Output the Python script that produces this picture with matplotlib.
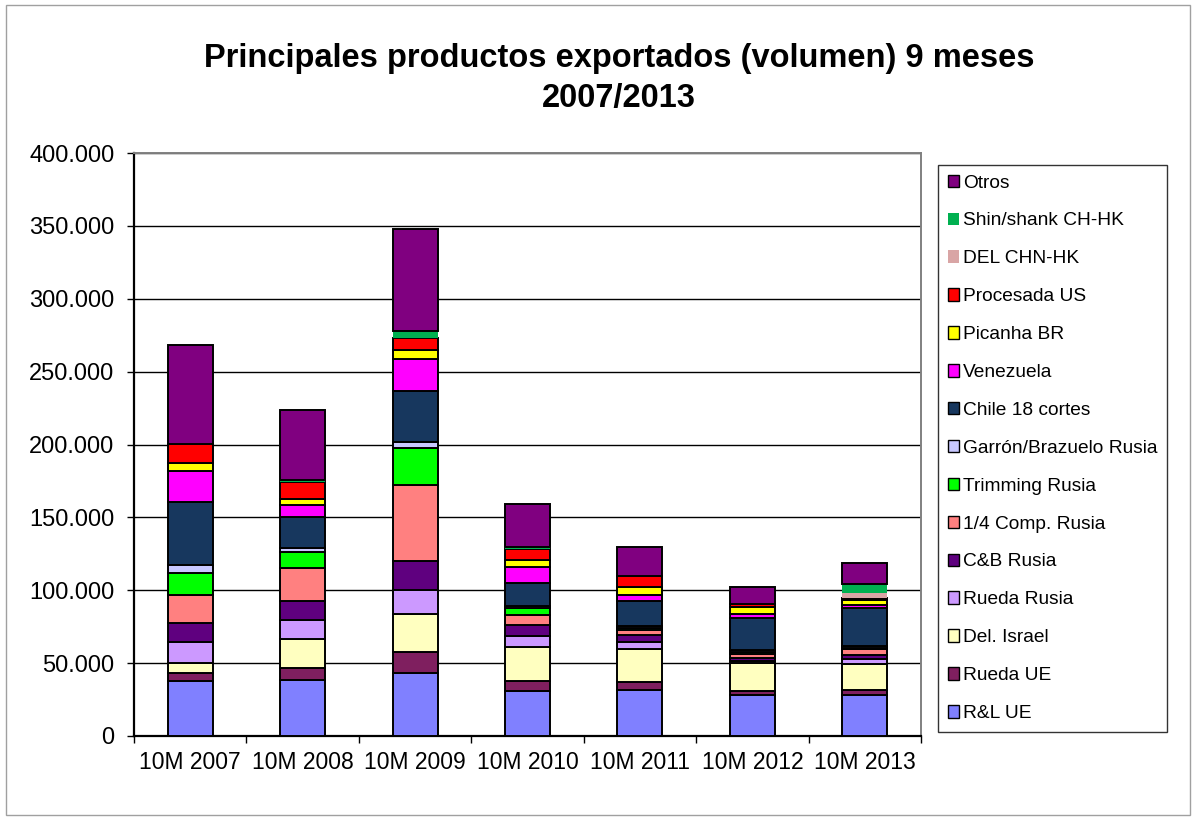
import matplotlib
matplotlib.use("Agg")
import matplotlib.pyplot as plt
from matplotlib.patches import Rectangle, Patch
from matplotlib.ticker import FuncFormatter, MultipleLocator, FixedLocator
import numpy as np

plt.rcParams['font.family'] = ['Liberation Sans', 'DejaVu Sans']

categories = ["10M 2007", "10M 2008", "10M 2009", "10M 2010", "10M 2011", "10M 2012", "10M 2013"]

series_names = ["R&L UE", "Rueda UE", "Del. Israel", "Rueda Rusia", "C&B Rusia",
                "1/4 Comp. Rusia", "Trimming Rusia", "Garrón/Brazuelo Rusia",
                "Chile 18 cortes", "Venezuela", "Picanha BR", "Procesada US",
                "DEL CHN-HK", "Shin/shank CH-HK", "Otros"]

rl_ue        = [38000, 38400, 43200, 31000, 31500, 28100, 28300]
rueda_ue     = [5000, 8400, 14600, 6700, 5300, 2500, 3000]
del_israel   = [7200, 19600, 25800, 23500, 22800, 19400, 18200]
rueda_rusia  = [14400, 13000, 16400, 7500, 4600, 1600, 3200]
cb_rusia     = [12800, 13200, 20100, 7300, 5400, 1600, 3000]
comp_rusia   = [19400, 22600, 52000, 7300, 2800, 3400, 3700]
trimming     = [14800, 10900, 25600, 4400, 1500, 1000, 1200]
garron       = [5500, 2600, 3900, 1600, 1600, 1100, 1200]
chile        = [43200, 21900, 34900, 16000, 16800, 22600, 25900]
venezuela    = [21700, 8200, 22400, 10900, 4700, 2700, 2200]
picanha      = [5200, 3600, 5900, 4600, 5000, 4800, 3700]
procesada    = [13300, 12200, 8300, 7700, 7800, 1600, 1100]
del_chn_hk   = [0, 0, 0, 0, 0, 0, 3700]
shin_shank   = [0, 1300, 5000, 1400, 0, 0, 5900]
otros        = [67500, 48000, 69800, 29500, 19600, 11600, 14700]

data = [rl_ue, rueda_ue, del_israel, rueda_rusia, cb_rusia, comp_rusia, trimming,
        garron, chile, venezuela, picanha, procesada, del_chn_hk, shin_shank, otros]

colors = ["#8080FF", "#7F1F5F", "#FFFFC0", "#CC99FF", "#5F007F", "#FF8080", "#00FF00",
          "#C8C8FF", "#17375E", "#FF00FF", "#FFFF00", "#FF0000", "#D9A5A5", "#00B050", "#800080"]
has_edge = [True] * 12 + [False, False, True]

W, H = 1194, 819
fig = plt.figure(figsize=(W / 100, H / 100), dpi=100)
fig.patches.append(Rectangle((6 / W, 4 / H), 1184 / W, 810 / H, transform=fig.transFigure,
                             fill=False, edgecolor="#A0A0A0", linewidth=1.0))

ax = fig.add_axes([134 / W, (H - 736) / H, 787 / W, 583 / H])
x = np.arange(len(categories))
bottom = np.zeros(len(categories))
handles = []
for name, vals, col, edge in zip(series_names, data, colors, has_edge):
    v = np.array(vals, dtype=float)
    ax.bar(x, v, bottom=bottom, width=0.4, color=col,
           edgecolor="black" if edge else "none", linewidth=1.4 if edge else 0, zorder=3)
    bottom += v
    handles.append(Patch(facecolor=col, edgecolor="black" if edge else "none",
                         linewidth=1.0 if edge else 0, label=name))

ax.set_xlim(-0.5, len(categories) - 0.5)
ax.set_ylim(0, 400000)
ax.yaxis.set_major_locator(MultipleLocator(50000))
ax.yaxis.set_major_formatter(FuncFormatter(lambda v, p: "0" if v == 0 else f"{int(v):,}".replace(",", ".")))
ax.grid(axis="y", color="black", linewidth=1.0, zorder=0)
ax.set_xticks(x)
ax.set_xticklabels(categories)
ax.xaxis.set_minor_locator(FixedLocator(np.arange(-0.5, len(categories), 1.0)))
ax.tick_params(axis="x", which="major", length=0, labelsize=16.5, pad=11)
ax.tick_params(axis="x", which="minor", length=5, width=1, direction="out")
ax.tick_params(axis="y", length=5, width=1, direction="out", labelsize=17, pad=9)
for s in ["left", "bottom"]:
    ax.spines[s].set_linewidth(1.6)
for s in ["top", "right"]:
    ax.spines[s].set_linewidth(1.4)
    ax.spines[s].set_color("#808080")

fig.text(619 / W, 1 - 67 / H, "Principales productos exportados (volumen) 9 meses",
         ha="center", va="baseline", fontsize=23.5, fontweight="bold")
fig.text(619 / W, 1 - 107 / H, "2007/2013",
         ha="center", va="baseline", fontsize=23.5, fontweight="bold")

leg = fig.legend(handles[::-1], series_names[::-1], loc="upper left",
                 bbox_to_anchor=(938 / W, 1 - 165 / H), fontsize=13.8,
                 frameon=True, fancybox=False, edgecolor="black",
                 handlelength=0.62, handleheight=0.62, handletextpad=0.2,
                 labelspacing=1.09, borderpad=0.5, borderaxespad=0)
leg.get_frame().set_linewidth(1.0)

fig.savefig("out.png", dpi=100)
